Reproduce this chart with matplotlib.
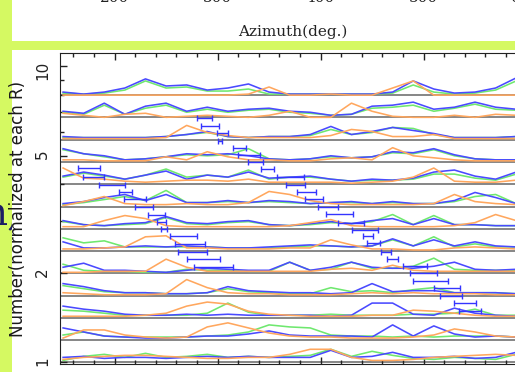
import numpy as np
import matplotlib.pyplot as plt
from matplotlib.patches import Rectangle
from matplotlib.ticker import FixedLocator, FixedFormatter, MultipleLocator, NullFormatter

# azimuth bins (deg) shared by every row
azimuth = [150, 170, 190, 210, 230, 250, 270, 290, 310, 330, 350, 370,
           390, 410, 430, 450, 470, 490, 510, 530, 550, 570, 590]

# baseline R of each row, bottom to top
base_r = [1.0, 1.19, 1.41, 1.68, 2.0, 2.38, 2.83, 3.36, 4.0, 4.76, 5.66, 6.73, 8.0]

# normalized counts above each baseline (ROW units = one row), bottom row first
blue_h = [
    [5, 6, 4, 5, 5, 4, 5, 6, 5, 6, 5, 5, 5, 12, 5, 6, 10, 5, 5, 6, 4, 5, 10],
    [12, 8, 4, 3, 2, 2, 3, 4, 4, 6, 9, 5, 4, 4, 4, 3, 15, 4, 14, 6, 3, 4, 3],
    [12, 9, 7, 4, 3, 3, 4, 3, 4, 3, 3, 3, 3, 2, 3, 15, 15, 4, 3, 10, 5, 3, 2],
    [12, 9, 5, 3, 3, 2, 2, 3, 9, 5, 4, 3, 3, 2, 3, 12, 4, 5, 5, 3, 3, 3, 2],
    [6, 10, 3, 3, 2, 1, 3, 5, 4, 3, 3, 11, 3, 6, 11, 6, 5, 5, 7, 11, 4, 3, 4],
    [9, 3, 3, 4, 5, 4, 5, 4, 3, 3, 4, 5, 6, 5, 4, 5, 12, 5, 11, 5, 9, 5, 4],
    [8, 4, 3, 5, 6, 12, 6, 5, 7, 8, 4, 3, 5, 7, 5, 8, 10, 4, 10, 4, 4, 3, 3],
    [3, 5, 9, 12, 6, 12, 4, 4, 6, 4, 6, 5, 3, 4, 5, 3, 5, 3, 3, 6, 14, 9, 3],
    [8, 12, 9, 5, 9, 13, 5, 9, 7, 12, 6, 7, 8, 5, 3, 5, 4, 6, 12, 14, 8, 5, 12],
    [13, 8, 6, 2, 3, 5, 8, 7, 8, 6, 3, 2, 3, 6, 4, 5, 10, 9, 13, 7, 3, 2, 2],
    [3, 2, 2, 2, 2, 3, 5, 8, 3, 2, 3, 3, 5, 13, 5, 8, 12, 9, 6, 2, 2, 2, 3],
    [6, 4, 14, 3, 11, 14, 6, 10, 6, 8, 9, 6, 5, 2, 3, 11, 12, 15, 8, 10, 15, 10, 8],
    [3, 1, 3, 7, 16, 9, 10, 5, 7, 11, 3, 1, 1, 1, 1, 1, 3, 14, 6, 2, 3, 7, 17],
]
green_h = [
    [2, 6, 8, 5, 9, 5, 6, 8, 5, 6, 5, 6, 7, 13, 6, 11, 7, 4, 3, 5, 4, 3, 8],
    [5, 8, 4, 3, 3, 3, 3, 4, 5, 8, 15, 13, 12, 5, 4, 4, 3, 4, 3, 4, 4, 4, 3],
    [8, 7, 5, 3, 3, 3, 3, 5, 15, 6, 3, 3, 3, 4, 3, 3, 3, 4, 4, 5, 9, 3, 3],
    [10, 7, 4, 3, 3, 2, 2, 3, 7, 4, 3, 2, 2, 8, 4, 5, 3, 6, 8, 3, 3, 3, 2],
    [9, 3, 2, 2, 1, 1, 4, 3, 3, 2, 2, 11, 3, 4, 11, 5, 5, 7, 15, 4, 3, 3, 3],
    [13, 8, 10, 4, 4, 4, 4, 4, 3, 3, 3, 4, 5, 5, 4, 5, 11, 5, 14, 4, 7, 4, 4],
    [7, 4, 3, 4, 5, 11, 5, 4, 6, 7, 4, 3, 4, 6, 5, 7, 14, 4, 13, 4, 4, 3, 3],
    [2, 4, 7, 10, 6, 16, 4, 4, 5, 4, 5, 4, 3, 4, 4, 3, 4, 3, 3, 5, 10, 12, 3],
    [7, 11, 8, 5, 9, 15, 7, 9, 7, 14, 5, 7, 7, 5, 3, 4, 4, 5, 10, 10, 6, 4, 10],
    [12, 8, 5, 2, 3, 5, 7, 6, 7, 13, 3, 2, 3, 5, 4, 5, 9, 8, 12, 6, 3, 2, 2],
    [2, 2, 2, 2, 2, 3, 5, 7, 3, 2, 3, 3, 4, 10, 5, 7, 12, 11, 5, 2, 2, 2, 3],
    [5, 3, 12, 3, 9, 12, 5, 8, 5, 7, 8, 5, 4, 2, 3, 9, 10, 12, 6, 9, 13, 8, 7],
    [2, 1, 2, 5, 14, 7, 8, 4, 4, 6, 1, 1, 1, 1, 1, 1, 2, 10, 3, 1, 2, 5, 14],
]
orange_h = [
    [3, 5, 6, 7, 7, 6, 5, 4, 4, 5, 5, 8, 13, 13, 5, 2, 2, 3, 5, 6, 7, 8, 7],
    [2, 10, 10, 5, 3, 2, 3, 13, 17, 12, 7, 4, 3, 3, 2, 2, 2, 3, 5, 11, 8, 4, 3],
    [2, 2, 2, 2, 3, 5, 12, 16, 14, 7, 4, 3, 2, 2, 2, 3, 3, 8, 7, 5, 3, 2, 2],
    [3, 2, 1, 1, 1, 2, 16, 8, 3, 2, 2, 1, 1, 1, 2, 3, 2, 3, 2, 2, 2, 1, 1],
    [1, 1, 2, 2, 2, 14, 6, 2, 2, 2, 2, 2, 2, 4, 5, 3, 8, 3, 2, 2, 2, 2, 2],
    [2, 2, 3, 4, 14, 15, 3, 3, 2, 2, 2, 3, 3, 11, 6, 2, 2, 1, 1, 3, 4, 3, 2],
    [2, 2, 8, 13, 10, 3, 2, 2, 2, 2, 2, 3, 6, 9, 3, 2, 2, 2, 2, 3, 6, 14, 8],
    [1, 5, 10, 3, 2, 2, 3, 2, 2, 4, 15, 12, 6, 3, 2, 2, 2, 2, 3, 12, 5, 3, 2],
    [16, 6, 5, 3, 2, 3, 4, 4, 3, 5, 2, 2, 2, 2, 1, 2, 3, 7, 16, 3, 2, 2, 4],
    [2, 2, 1, 1, 1, 5, 2, 10, 5, 2, 2, 1, 1, 3, 4, 2, 14, 6, 4, 2, 1, 1, 1],
    [1, 1, 1, 1, 1, 2, 14, 7, 4, 2, 2, 2, 2, 4, 10, 8, 3, 3, 5, 1, 1, 1, 1],
    [4, 2, 0, 3, 4, 0, 1, 2, 1, 0, 2, 6, 0, 0, 14, 6, 1, 0, 0, 2, 0, 3, 2],
    [0, 0, 0, 0, 0, 0, 0, 0, 0, 1, 8, 0, 0, 1, 0, 0, 7, 14, 0, 0, 0, 0, 0],
]
ROW = 22.0

# fitted peak positions with errors (outer arm)
peak_r = [6.70, 6.30, 5.96, 5.60, 5.30, 5.02, 4.76, 4.51, 4.23, 3.98, 3.77, 3.57, 3.35, 3.18,
          2.96, 2.80, 2.68, 2.53, 2.36, 2.24, 2.12, 2.01, 1.88, 1.79, 1.68, 1.59, 1.49]
peak_az = [287.3, 292.6, 304.8, 302.3, 321.3, 330.5, 336.8, 348.5, 370.8, 375.7, 386.3, 393.6,
           407.2, 418.4, 429.5, 443.1, 446.0, 451.4, 463.5, 469.8, 491.7, 499.9, 506.7, 522.7,
           526.6, 540.2, 545.1]
peak_err = [7.3, 8.7, 5.3, 1.9, 6.3, 10.7, 7.3, 6.3, 13.1, 9.2, 9.2, 8.7, 9.7, 13.1, 12.6,
            12.6, 4.9, 6.3, 4.9, 5.3, 11.7, 13.1, 17.0, 12.6, 10.7, 10.7, 10.7]
# inner arm
peak2_r = [4.54, 4.23, 3.98, 3.77, 3.57, 3.35, 3.15, 2.98, 2.83, 2.68, 2.51, 2.36, 2.24, 2.10]
peak2_az = [175.2, 179.5, 197.5, 210.6, 219.8, 228.6, 240.7, 245.5, 248.0, 266.9, 273.2,
            275.6, 286.3, 296.0]
peak2_err = [10.7, 10.2, 12.6, 6.3, 10.7, 8.7, 8.3, 4.4, 2.9, 13.1, 14.6, 14.3, 16.0, 18.9]

top_ticks = [200, 300, 400, 500, 600]

LIME = '#d5f962'
BLUE = '#4a4aff'
GREEN = '#6fe86f'
ORANGE = '#ffa75e'
EBAR = '#3434ff'

W, H = 515, 372
plt.rcParams['font.family'] = 'DejaVu Sans'
fig = plt.figure(figsize=(W / 100, H / 100), dpi=100)
fig.patch.set_facecolor(LIME)


def fx(px):
    return px / W


def fy(py):
    return 1 - py / H


# big heading letter peeking in from the left
fig.text(fx(-17), fy(224), 'h,', fontsize=28, family='DejaVu Serif',
         color='#1c1c64', va='baseline', ha='left', zorder=0.1)

# white panels
for y0, y1 in [(-5, 40.5), (50, H + 5)]:
    fig.add_artist(Rectangle((fx(12), fy(y1)), 1.0, (y1 - y0) / H,
                             transform=fig.transFigure, facecolor='white',
                             edgecolor='none', zorder=0.5))

# bottom edge of the panel above
axt = fig.add_axes([fx(60), fy(-10), (526 - 60) / W, 0.2])
axt.set_zorder(1)
axt.set_xlim(147, 600)
axt.set_xticks(top_ticks)
axt.set_xticklabels([str(t) for t in top_ticks], family='DejaVu Serif', fontsize=11,
                    color='#222222')
axt.tick_params(axis='x', direction='in', pad=0.6, length=0)
axt.set_yticks([])
axt.patch.set_visible(False)
for s in axt.spines.values():
    s.set_visible(False)
axt.set_xlabel('Azimuth(deg.)', family='DejaVu Serif', fontsize=11, color='#222222',
               labelpad=14)

# main stacked panel
ax = fig.add_axes([fx(60), fy(364), (578 - 60) / W, (364 - 53) / H])
ax.set_zorder(2)
ax.set_yscale('log')
ax.set_ylim(0.988, 11.1)
ax.set_xlim(147, 650)

for b in base_r:
    ax.axhline(b, color='0.4', lw=1.1, zorder=1)

for rows, col, z in [(green_h, GREEN, 2), (blue_h, BLUE, 3), (orange_h, ORANGE, 4)]:
    for b, h in zip(base_r, rows):
        ax.plot(azimuth, b * 2 ** (0.25 * np.array(h) / ROW), color=col, lw=1.15, zorder=z)

ax.errorbar(peak_az, peak_r, xerr=peak_err, fmt='none', ecolor=EBAR,
            elinewidth=1.0, capsize=2.2, capthick=1.0, zorder=5)
ax.errorbar(peak2_az, peak2_r, xerr=peak2_err, fmt='none', ecolor=EBAR,
            elinewidth=1.0, capsize=2.2, capthick=1.0, zorder=5)

ax.yaxis.set_major_locator(FixedLocator([1, 2, 5, 10]))
ax.yaxis.set_major_formatter(FixedFormatter(['1', '2', '5', '10']))
ax.yaxis.set_minor_locator(FixedLocator([3, 4, 6, 7, 8, 9]))
ax.yaxis.set_minor_formatter(NullFormatter())
ax.xaxis.set_major_locator(MultipleLocator(100))
ax.xaxis.set_minor_locator(MultipleLocator(20))
ax.tick_params(which='both', direction='in', top=True, right=True, labelbottom=False,
               color='#222222', width=1.0)
ax.tick_params(which='major', length=5)
ax.tick_params(which='minor', length=3)
ax.tick_params(axis='y', labelrotation=90, labelsize=11, pad=7, labelcolor='#222222')
for s in ax.spines.values():
    s.set_color('#222222')
ax.set_ylabel('Number(normalized at each R)', fontsize=12, color='#1a1a1a', labelpad=6)

fig.savefig('out.png', dpi=100, facecolor=LIME)
